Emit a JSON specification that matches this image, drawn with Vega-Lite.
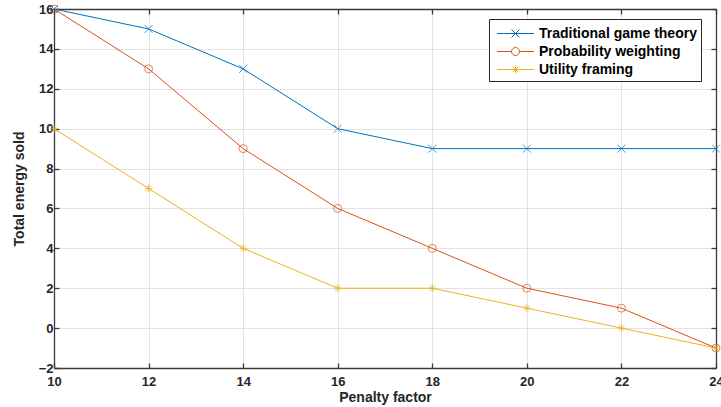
{
  "$schema": "https://vega.github.io/schema/vega-lite/v6.json",
  "width": 662,
  "height": 359,
  "autosize": {"type": "none"},
  "padding": {"left": 54, "top": 9, "right": 5, "bottom": 39},
  "background": "white",
  "config": {
    "font": "Liberation Sans",
    "view": {"stroke": null},
    "axis": {
      "labelFont": "Liberation Sans",
      "labelFontWeight": "bold",
      "labelFontSize": 13,
      "labelColor": "#262626",
      "titleFont": "Liberation Sans",
      "titleFontWeight": "bold",
      "titleFontSize": 14,
      "titleColor": "#262626",
      "domainColor": "#3a3a3a",
      "domainWidth": 1.3,
      "tickColor": "#3a3a3a",
      "tickWidth": 1.3,
      "gridColor": "#e3e3e3",
      "gridWidth": 1
    },
    "legend": {
      "title": null, "orient": "none", "legendX": 435, "legendY": 10,
      "padding": 4, "strokeColor": "#262626", "fillColor": "white",
      "labelFontSize": 14, "labelFontWeight": "bold", "labelColor": "black", "labelFont": "Liberation Sans",
      "labelOffset": 13, "symbolOffset": 12, "symbolSize": 400, "symbolStrokeWidth": 1, "symbolOpacity": 1,
      "rowPadding": -4, "labelLimit": 300
    }
  },
  "data": {
    "values": [
      {"x": 10, "y": 16, "series": "Traditional game theory"},
      {"x": 12, "y": 15, "series": "Traditional game theory"},
      {"x": 14, "y": 13, "series": "Traditional game theory"},
      {"x": 16, "y": 10, "series": "Traditional game theory"},
      {"x": 18, "y": 9, "series": "Traditional game theory"},
      {"x": 20, "y": 9, "series": "Traditional game theory"},
      {"x": 22, "y": 9, "series": "Traditional game theory"},
      {"x": 24, "y": 9, "series": "Traditional game theory"},
      {"x": 10, "y": 16, "series": "Probability weighting"},
      {"x": 12, "y": 13, "series": "Probability weighting"},
      {"x": 14, "y": 9, "series": "Probability weighting"},
      {"x": 16, "y": 6, "series": "Probability weighting"},
      {"x": 18, "y": 4, "series": "Probability weighting"},
      {"x": 20, "y": 2, "series": "Probability weighting"},
      {"x": 22, "y": 1, "series": "Probability weighting"},
      {"x": 24, "y": -1, "series": "Probability weighting"},
      {"x": 10, "y": 10, "series": "Utility framing"},
      {"x": 12, "y": 7, "series": "Utility framing"},
      {"x": 14, "y": 4, "series": "Utility framing"},
      {"x": 16, "y": 2, "series": "Utility framing"},
      {"x": 18, "y": 2, "series": "Utility framing"},
      {"x": 20, "y": 1, "series": "Utility framing"},
      {"x": 22, "y": 0, "series": "Utility framing"},
      {"x": 24, "y": -1, "series": "Utility framing"}
    ]
  },
  "layer": [
    {
      "mark": {"type": "line", "strokeWidth": 1, "clip": false},
      "encoding": {
        "x": {"field": "x", "type": "quantitative",
          "scale": {"domain": [10, 24], "nice": false, "zero": false},
          "axis": {"orient": "bottom", "title": "Penalty factor", "values": [10, 12, 14, 16, 18, 20, 22, 24],
            "grid": true, "tickSize": -5, "labelPadding": 12, "titlePadding": 2, "labelFlush": false}},
        "y": {"field": "y", "type": "quantitative",
          "scale": {"domain": [-2, 16], "nice": false, "zero": false},
          "axis": {"orient": "left", "title": "Total energy sold", "values": [-2, 0, 2, 4, 6, 8, 10, 12, 14, 16],
            "grid": true, "tickSize": -5, "labelPadding": 6, "titlePadding": 12, "labelFlush": false}},
        "color": {"field": "series", "type": "nominal",
          "scale": {"domain": ["Traditional game theory", "Probability weighting", "Utility framing"],
            "range": ["#0072BD", "#D95319", "#EDB120"]}}
      }
    },
    {
      "transform": [{"filter": "datum.series === 'Traditional game theory'"}],
      "mark": {"type": "point", "filled": false, "strokeWidth": 1, "size": 64, "clip": false, "shape": "M-1,-1L1,1M-1,1L1,-1"},
      "encoding": {
        "x": {"field": "x", "type": "quantitative",
          "axis": {"orient": "top", "title": null, "labels": false, "grid": false, "tickSize": -5, "values": [10, 12, 14, 16, 18, 20, 22, 24]}},
        "y": {"field": "y", "type": "quantitative",
          "axis": {"orient": "right", "title": null, "labels": false, "grid": false, "tickSize": -5, "values": [-2, 0, 2, 4, 6, 8, 10, 12, 14, 16]}},
        "color": {"field": "series", "type": "nominal"}
      }
    },
    {
      "transform": [{"filter": "datum.series === 'Probability weighting'"}],
      "mark": {"type": "point", "filled": false, "strokeWidth": 1, "size": 64, "clip": false, "shape": "circle"},
      "encoding": {
        "x": {"field": "x", "type": "quantitative", "axis": null},
        "y": {"field": "y", "type": "quantitative", "axis": null},
        "color": {"field": "series", "type": "nominal"}
      }
    },
    {
      "transform": [{"filter": "datum.series === 'Utility framing'"}],
      "mark": {"type": "point", "filled": false, "strokeWidth": 1, "size": 64, "clip": false, "shape": "M-1,0L1,0M0,-1L0,1M-0.7,-0.7L0.7,0.7M-0.7,0.7L0.7,-0.7"},
      "encoding": {
        "x": {"field": "x", "type": "quantitative", "axis": null},
        "y": {"field": "y", "type": "quantitative", "axis": null},
        "color": {"field": "series", "type": "nominal"}
      }
    },
    {
      "mark": {"type": "point", "filled": false, "strokeWidth": 1, "opacity": 0},
      "encoding": {
        "x": {"field": "x", "type": "quantitative", "axis": null},
        "y": {"field": "y", "type": "quantitative", "axis": null},
        "color": {"field": "series", "type": "nominal"},
        "shape": {"field": "series", "type": "nominal",
          "scale": {"domain": ["Traditional game theory", "Probability weighting", "Utility framing"],
            "range": ["M-1.85,0L1.85,0M-0.4,-0.4L0.4,0.4M-0.4,0.4L0.4,-0.4",
                      "M-1.85,0L-0.4,0M0.4,0L1.85,0M0.4,0A0.4,0.4,0,1,1,-0.4,0A0.4,0.4,0,1,1,0.4,0",
                      "M-1.85,0L1.85,0M0,-0.4L0,0.4M-0.28,-0.28L0.28,0.28M-0.28,0.28L0.28,-0.28"]}}
      }
    }
  ],
  "resolve": {"axis": {"x": "independent", "y": "independent"}}
}
